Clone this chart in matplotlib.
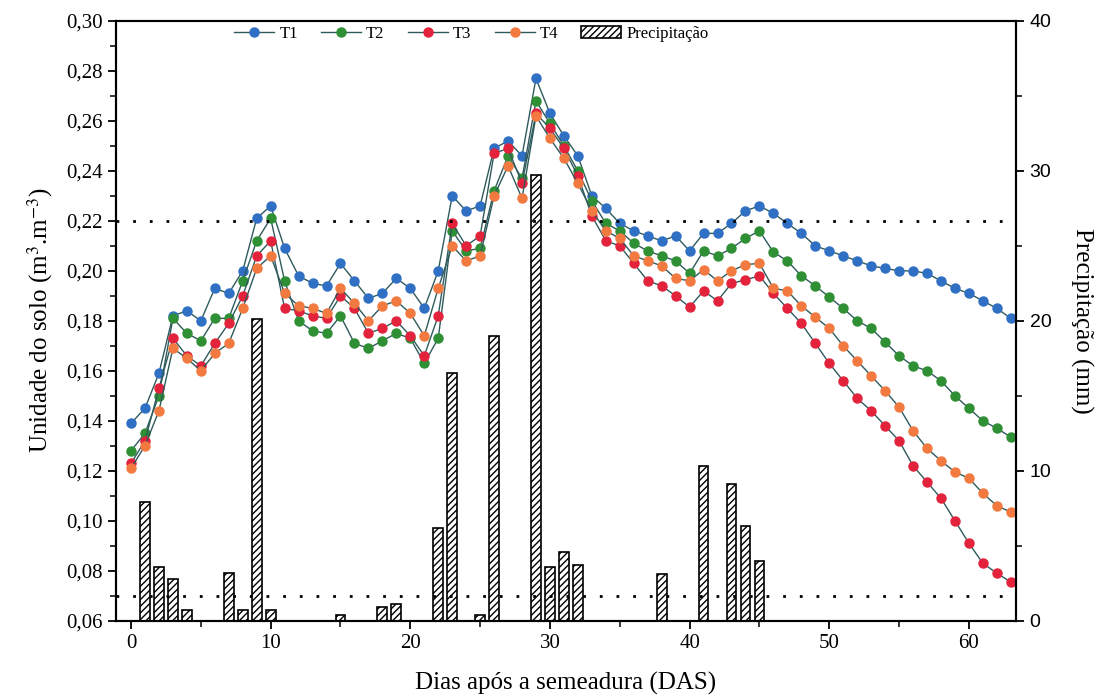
import numpy as np
import matplotlib.pyplot as plt
from matplotlib.ticker import FuncFormatter, MultipleLocator

plt.rcParams['font.family'] = ['Liberation Serif', 'DejaVu Serif']
plt.rcParams['mathtext.fontset'] = 'stix'
plt.rcParams['hatch.linewidth'] = 1.0

days = np.arange(64)

# soil moisture per treatment (m3/m3)
t1 = [0.139, 0.145, 0.159, 0.182, 0.184, 0.180, 0.193, 0.191, 0.200, 0.221,
      0.226, 0.209, 0.198, 0.195, 0.194, 0.203, 0.196, 0.189, 0.191, 0.197,
      0.193, 0.185, 0.200, 0.230, 0.224, 0.226, 0.249, 0.252, 0.246, 0.277,
      0.263, 0.254, 0.246, 0.230, 0.225, 0.219, 0.216, 0.214, 0.212, 0.214,
      0.208, 0.215, 0.215, 0.219, 0.224, 0.226, 0.223, 0.219, 0.215, 0.210,
      0.208, 0.206, 0.204, 0.202, 0.201, 0.200, 0.200, 0.199, 0.196, 0.193,
      0.191, 0.188, 0.185, 0.181]
t2 = [0.128, 0.135, 0.150, 0.181, 0.175, 0.172, 0.181, 0.181, 0.196, 0.212,
      0.221, 0.196, 0.180, 0.176, 0.175, 0.182, 0.171, 0.169, 0.172, 0.175,
      0.173, 0.163, 0.173, 0.216, 0.208, 0.209, 0.232, 0.246, 0.237, 0.268,
      0.259, 0.250, 0.240, 0.228, 0.219, 0.216, 0.211, 0.208, 0.206, 0.204,
      0.199, 0.208, 0.206, 0.209, 0.213, 0.216, 0.2075, 0.204, 0.198, 0.194,
      0.1895, 0.185, 0.180, 0.177, 0.1715, 0.166, 0.162, 0.160, 0.156, 0.150,
      0.145, 0.140, 0.137, 0.1335]
t3 = [0.123, 0.132, 0.153, 0.173, 0.166, 0.162, 0.171, 0.179, 0.190, 0.206,
      0.212, 0.185, 0.184, 0.182, 0.181, 0.190, 0.185, 0.175, 0.177, 0.180,
      0.174, 0.166, 0.182, 0.219, 0.210, 0.214, 0.247, 0.249, 0.235, 0.263,
      0.257, 0.249, 0.238, 0.222, 0.212, 0.210, 0.203, 0.196, 0.194, 0.190,
      0.1855, 0.192, 0.188, 0.195, 0.1964, 0.198, 0.191, 0.185, 0.179, 0.171,
      0.163, 0.156, 0.149, 0.144, 0.138, 0.132, 0.122, 0.1155, 0.109, 0.100,
      0.091, 0.083, 0.079, 0.0755]
t4 = [0.121, 0.130, 0.144, 0.169, 0.165, 0.160, 0.167, 0.171, 0.185, 0.201,
      0.206, 0.191, 0.186, 0.185, 0.183, 0.193, 0.187, 0.180, 0.186, 0.188,
      0.183, 0.174, 0.193, 0.210, 0.204, 0.206, 0.230, 0.242, 0.229, 0.262,
      0.253, 0.245, 0.235, 0.224, 0.216, 0.213, 0.206, 0.204, 0.202, 0.197,
      0.196, 0.2005, 0.196, 0.200, 0.2025, 0.203, 0.193, 0.192, 0.186, 0.1815,
      0.177, 0.170, 0.164, 0.158, 0.152, 0.1455, 0.136, 0.129, 0.124, 0.1195,
      0.117, 0.111, 0.106, 0.1035]

# rainfall (mm)
rain_days = [1, 2, 3, 4, 7, 8, 9, 10, 15, 18, 19, 22, 23, 25, 26, 29, 30, 31, 32,
             38, 41, 43, 44, 45]
rain_mm = [7.9, 3.6, 2.8, 0.7, 3.2, 0.7, 20.1, 0.7, 0.4, 0.9, 1.1, 6.2, 16.5, 0.4,
           19.0, 29.7, 3.6, 4.6, 3.7, 3.1, 10.3, 9.1, 6.3, 4.0]

fig = plt.figure(figsize=(11.12, 6.99), dpi=100)
ax = fig.add_axes([0.104, 0.112, 0.81, 0.858])
ax2 = ax.twinx()

ax2.bar(rain_days, rain_mm, width=0.7, color='white', edgecolor='black',
        hatch='/////', linewidth=1.2, label='Precipitação')
ax2.set_ylim(0, 40)

ax.set_zorder(ax2.get_zorder() + 1)
ax.patch.set_visible(False)

line_col = '#2f5a5c'
series = [(t1, '#2f6fc4', 'T1'), (t2, '#2f8f34', 'T2'),
          (t3, '#e3223c', 'T3'), (t4, '#f27a40', 'T4')]
for vals, c, lab in series:
    ax.plot(days, vals, '-o', color=line_col, lw=1.0, ms=6.5,
            markerfacecolor=c, markeredgecolor=c, label=lab)

ax.axhline(0.22, color='black', ls=(0, (1, 5)), lw=2)
ax.axhline(0.07, color='black', ls=(0, (1, 5)), lw=2)

ax.set_xlim(-1.1, 63.4)
ax.set_ylim(0.06, 0.30)
ax.xaxis.set_major_locator(MultipleLocator(10))
ax.xaxis.set_minor_locator(MultipleLocator(5))
ax.yaxis.set_major_locator(MultipleLocator(0.02))
ax.yaxis.set_minor_locator(MultipleLocator(0.01))
ax.yaxis.set_major_formatter(FuncFormatter(lambda v, p: f"{v:.2f}".replace('.', ',')))
ax2.yaxis.set_major_locator(MultipleLocator(10))
ax2.yaxis.set_minor_locator(MultipleLocator(5))

ax.tick_params(axis='both', which='major', direction='out', length=6, width=1.3, labelsize=15)
ax.tick_params(axis='both', which='minor', direction='out', length=4, width=1.1)
ax2.tick_params(axis='y', which='major', direction='out', length=6, width=1.3, labelsize=14)
ax2.tick_params(axis='y', which='minor', direction='out', length=4, width=1.1)
for lbl in ax2.get_yticklabels():
    lbl.set_family('Liberation Sans')

for a in (ax, ax2):
    for s in a.spines.values():
        s.set_linewidth(1.5)

ax.set_xlabel('Dias após a semeadura (DAS)', fontsize=18, labelpad=14)
ax.set_ylabel(r'Unidade do solo (m$^3$.m$^{-3}$)', fontsize=18, labelpad=8)
ax2.set_ylabel('Precipitação (mm)', fontsize=18, rotation=270, labelpad=30)

h1, l1 = ax.get_legend_handles_labels()
h2, l2 = ax2.get_legend_handles_labels()
ax.legend(h1 + h2, l1 + l2, loc='upper center', bbox_to_anchor=(0.395, 1.003),
          ncol=5, frameon=False, fontsize=12, handlelength=2.4,
          columnspacing=1.4, handletextpad=0.3, borderaxespad=0.0)

fig.savefig('out.png', dpi=100)
